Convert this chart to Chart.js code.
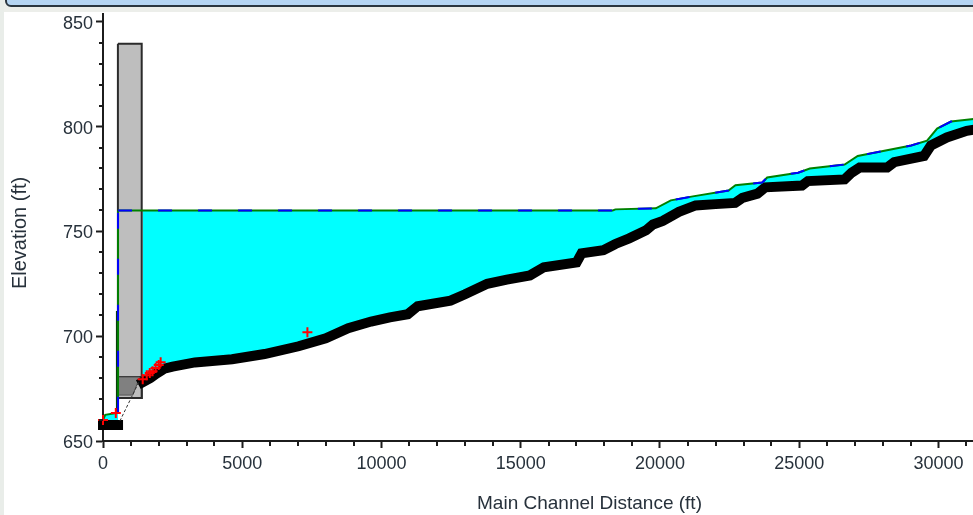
<!DOCTYPE html>
<html>
<head>
<meta charset="utf-8">
<style>
  html, body { margin: 0; background: #fff; overflow: hidden; width: 973px; height: 515px; }
  #band { position: absolute; left: 0; top: 0; width: 973px; height: 12px; background: #eceeea; }
  #bar { position: absolute; left: 5px; top: -7px; width: 975px; height: 10px; background: #b5d5f3; border: 2px solid #2a3640; border-radius: 6px; }
  #side { position: absolute; left: 0; top: 0; width: 4px; height: 515px; background: #e9ede9; }
  #myChart { position: absolute; left: 0; top: 0; filter: blur(0.4px); }
</style>
</head>
<body>
<div id="band"></div><div id="bar"></div><div id="side"></div>
<canvas id="myChart" width="1083" height="515"></canvas>
<script src="https://cdn.jsdelivr.net/npm/chart.js@4"></script>
<script>
const xTicks = [0, 5000, 10000, 15000, 20000, 25000, 30000];
const yTicks = [650, 700, 750, 800, 850];
const xMinor = [1000, 2000, 3000, 4000, 6000, 7000, 8000, 9000, 11000, 12000, 13000, 14000, 16000, 17000, 18000, 19000, 21000, 22000, 23000, 24000, 26000, 27000, 28000, 29000, 31000];
const yMinor = [660, 670, 680, 690, 710, 720, 730, 740, 760, 770, 780, 790, 810, 820, 830, 840];

// bed below the bridge and bed of the reservoir and above
const bedLowX = [0, 540];
const bedLowY = [657.6, 657.6];
const bedX = [1426, 1700, 1900, 2200, 2500, 3300, 4635, 5800, 7023, 8000, 8806, 9626, 10300, 10945, 11300, 12478, 13000, 13797, 14500, 15330, 15829, 17005, 17184, 17968, 18400, 18895, 19500, 19750, 20100, 20680, 21280, 22000, 22700, 22960, 23500, 23780, 25100, 25310, 26630, 26880, 27170, 28160, 28410, 29480, 29730, 30300, 31016, 31500];
const bedY = [678, 680, 682, 684.5, 685.5, 687.5, 689, 691.5, 695.2, 699, 703.8, 707, 709, 710.5, 714.3, 717, 720, 725, 727, 729, 732.9, 735.2, 739.5, 741, 744, 746.7, 750.5, 753.3, 755, 759.3, 762.4, 763, 763.6, 766, 768, 771, 771.9, 774, 774.8, 778, 780.5, 780.5, 783, 786, 791, 794.8, 798, 799];

// water surface
const surfLowX = [0, 80, 540];
const surfLowY = [660, 662.5, 663.5];
const spillX = [540, 540];
const spillY = [663.5, 760];
const surfX = [540, 1390, 18300, 18400, 19850, 20390, 21180, 22460, 22710, 23670, 23850, 24960, 25380, 26630, 27100, 29020, 29590, 29950, 30450, 31016, 31500];
const surfY = [760, 760, 760, 760.5, 761, 764.8, 766.7, 769.5, 772, 773.3, 775.7, 778, 780, 781.9, 786, 791, 793.3, 799, 802.4, 803.3, 804];
const gateX = [500, 500];
const gateY = [664, 712];

// bridge
const deckX = [535, 1390, 1390, 535, 535];
const deckY = [839.5, 839.5, 670.5, 670.5, 839.5];
const lowChordX = [535, 1390, 1390, 535, 535];
const lowChordY = [680.5, 680.5, 670.5, 670.5, 680.5];
const openingX = [535, 1319, 1070, 535, 535];
const openingY = [680.5, 680.5, 671.9, 671.9, 680.5];
const abutX = [606, 1319];
const abutY = [659.5, 679];

// red crosses
const markX = [0, 460, 1426, 1570, 1680, 1780, 1890, 2000, 2070, 7340];
const markY = [660, 663.3, 679.5, 681.4, 682.4, 683.3, 684.8, 686.2, 687.6, 701.9];

const zip = (xs, ys) => xs.map((x, i) => ({ x: x, y: ys[i] }));
const ink = '#1c1c1c';
const textColor = '#27313b';

const minorTicks = {
  id: 'minorTicks',
  afterDatasetsDraw(chart) {
    const c = chart.ctx, sx = chart.scales.x, sy = chart.scales.y;
    c.save();
    c.strokeStyle = ink;
    c.lineWidth = 2;
    xMinor.forEach(v => {
      const p = Math.round(sx.getPixelForValue(v));
      c.beginPath(); c.moveTo(p, sy.bottom); c.lineTo(p, sy.bottom + 5); c.stroke();
    });
    yMinor.forEach(v => {
      const p = Math.round(sy.getPixelForValue(v));
      c.beginPath(); c.moveTo(sx.left, p); c.lineTo(sx.left - 4, p); c.stroke();
    });
    c.restore();
  }
};

const line = (label, data, color, width, order, extra) => Object.assign({
  label: label,
  data: data,
  borderColor: color,
  borderWidth: width,
  pointRadius: 0,
  tension: 0,
  order: order,
  clip: 12,
  fill: false
}, extra || {});

new Chart(document.getElementById('myChart'), {
  type: 'line',
  plugins: [minorTicks],
  data: {
    datasets: [
      line('Bed', zip(bedX, bedY), '#000', 10, 5, { borderCapStyle: 'square', borderJoinStyle: 'miter' }),
      line('Bed low', zip(bedLowX, bedLowY), '#000', 10, 5, { borderCapStyle: 'square' }),
      line('Water fill', zip(surfX, surfY), 'rgba(0,0,0,0)', 0, 12, { fill: { target: 0 }, backgroundColor: '#00ffff' }),
      line('Water low fill', zip(surfLowX, surfLowY), 'rgba(0,0,0,0)', 0, 12, { fill: { target: 1 }, backgroundColor: '#00ffff' }),
      line('Water', zip(surfX, surfY), '#008000', 2, 3),
      line('Water low', zip(surfLowX, surfLowY), '#008000', 2, 3),
      line('Spill', zip(spillX, spillY), '#008000', 2, 3),
      line('Gate', zip(gateX, gateY), '#0a3d0a', 2, 3),
      line('Water dash', zip(surfX, surfY), '#0000ff', 2, 2, { borderDash: [14, 26] }),
      line('Spill dash', zip(spillX, spillY), '#0000ff', 2, 2, { borderDash: [16, 30] }),
      line('Bridge', zip(deckX, deckY), '#2b2b2b', 2, 8, { fill: 'shape', backgroundColor: '#bebebe' }),
      line('Low chord', zip(lowChordX, lowChordY), '#2b2b2b', 2, 7, { fill: 'shape', backgroundColor: '#bebebe' }),
      line('Opening', zip(openingX, openingY), '#555', 1, 6, { fill: 'shape', backgroundColor: '#808080' }),
      line('Abutment', zip(abutX, abutY), '#333', 1, 4, { borderDash: [3, 2] }),
      line('Marks', zip(markX, markY), '#ff0000', 2, 1, { showLine: false, pointRadius: 5, pointStyle: 'cross', pointBorderColor: '#ff0000', pointBorderWidth: 2 })
    ]
  },
  options: {
    responsive: false,
    animation: false,
    layout: { padding: { top: 13, right: 0, left: 0, bottom: 0 } },
    plugins: { legend: { display: false }, tooltip: { enabled: false } },
    scales: {
      x: {
        type: 'linear',
        min: 0,
        max: 34938,
        afterBuildTicks: s => { s.ticks = xTicks.map(v => ({ value: v })); },
        afterFit: s => { s.height = 74; },
        border: { color: ink, width: 2 },
        grid: { drawOnChartArea: false, color: ink, tickLength: 7, tickWidth: 2 },
        ticks: { autoSkip: false, maxRotation: 0, padding: 5, color: textColor, callback: v => String(v), font: { family: 'Liberation Sans', size: 18 } },
        title: { display: true, text: 'Main Channel Distance (ft)', color: textColor, padding: { top: 0, bottom: 0 }, font: { family: 'Liberation Sans', size: 19 } }
      },
      y: {
        min: 650,
        max: 853.8,
        afterBuildTicks: s => { s.ticks = yTicks.map(v => ({ value: v })); },
        afterFit: s => { s.width = 103; },
        border: { color: ink, width: 2 },
        grid: { drawOnChartArea: false, color: ink, tickLength: 7, tickWidth: 2 },
        ticks: { autoSkip: false, padding: 3, labelOffset: 2, color: textColor, callback: v => String(v), font: { family: 'Liberation Sans', size: 18 } },
        title: { display: true, text: 'Elevation (ft)  ', color: textColor, padding: { top: 8, bottom: 0 }, font: { family: 'Liberation Sans', size: 20 } }
      }
    }
  }
});
</script>
</body>
</html>
